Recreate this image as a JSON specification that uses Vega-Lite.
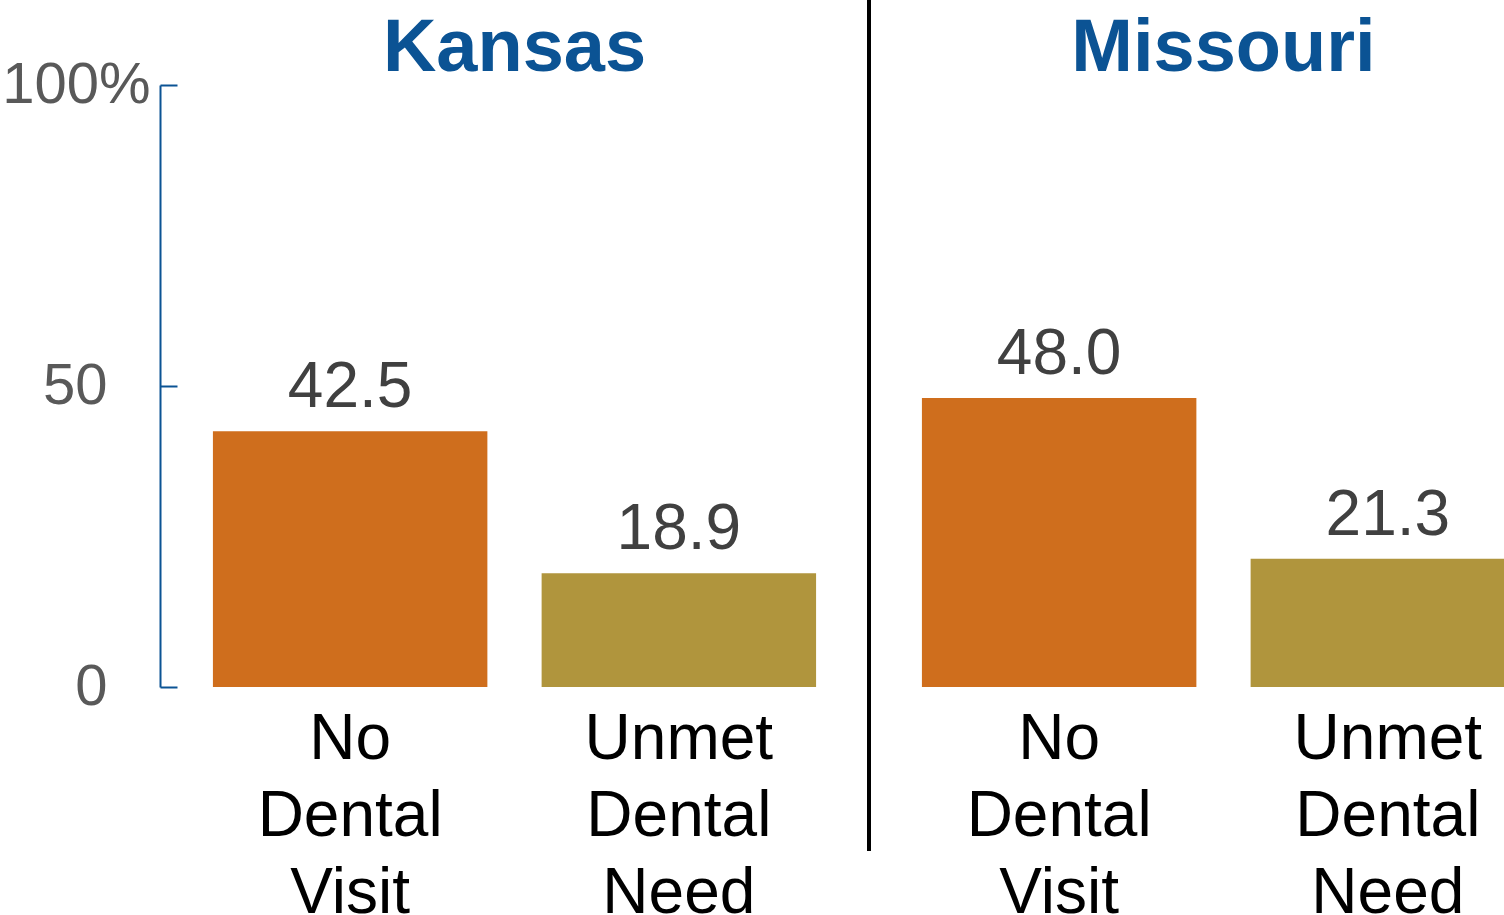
{
  "$schema": "https://vega.github.io/schema/vega-lite/v6.json",
  "width": 1344,
  "height": 602,
  "autosize": {"type": "none"},
  "padding": {"left": 160, "top": 85, "right": 0, "bottom": 228},
  "background": "white",
  "config": {"view": {"stroke": null}, "font": "Liberation Sans"},
  "data": {
    "values": [
      {"state": "Kansas", "measure": "No Dental Visit", "value": 42.5},
      {"state": "Kansas", "measure": "Unmet Dental Need", "value": 18.9},
      {"state": "Missouri", "measure": "No Dental Visit", "value": 48.0},
      {"state": "Missouri", "measure": "Unmet Dental Need", "value": 21.3}
    ]
  },
  "encoding": {
    "x": {
      "field": "state",
      "type": "nominal",
      "title": null,
      "scale": {"domain": ["Kansas", "Missouri"], "range": [0, 1418], "paddingInner": 0, "paddingOuter": 0},
      "axis": {
        "orient": "top",
        "domain": false,
        "ticks": false,
        "grid": false,
        "labelAngle": 0,
        "labelLimit": 0,
        "labelFont": "Liberation Sans",
        "labelFontSize": 74,
        "labelFontWeight": "bold",
        "labelColor": "#0b5394",
        "labelBaseline": "alphabetic",
        "labelPadding": 15
      }
    },
    "y": {
      "field": "value",
      "type": "quantitative",
      "title": null,
      "scale": {"domain": [0, 100], "nice": false},
      "axis": {
        "values": [0, 50, 100],
        "grid": false,
        "domainColor": "#0b5394",
        "domainWidth": 2,
        "tickColor": "#0b5394",
        "tickWidth": 2,
        "tickSize": -17,
        "labelFont": "Liberation Sans",
        "labelFontSize": 58,
        "labelColor": "#595959",
        "labelBaseline": "middle",
        "labelExpr": "datum.value == 100 ? '100%' : datum.label",
        "labelPadding": {"condition": {"test": "datum.value == 100", "value": 27}, "value": 70}
      }
    }
  },
  "layer": [
    {
      "mark": {"type": "bar"},
      "encoding": {
        "xOffset": {
          "field": "measure",
          "type": "nominal",
          "scale": {"domain": ["No Dental Visit", "Unmet Dental Need"], "paddingInner": 0.165, "paddingOuter": 0.161}
        },
        "color": {
          "field": "measure",
          "type": "nominal",
          "scale": {"domain": ["No Dental Visit", "Unmet Dental Need"], "range": ["#cf6e1d", "#b0953d"]},
          "legend": null
        }
      }
    },
    {
      "mark": {"type": "text", "dy": -24, "baseline": "alphabetic", "align": "center", "fontSize": 64, "color": "#404040"},
      "encoding": {
        "xOffset": {"field": "measure", "type": "nominal"},
        "text": {"field": "value", "type": "quantitative", "format": ".1f"}
      }
    },
    {
      "mark": {"type": "text", "dy": 72, "baseline": "alphabetic", "align": "center", "fontSize": 64, "color": "#000000", "lineBreak": " ", "lineHeight": 77, "clip": false},
      "encoding": {
        "xOffset": {"field": "measure", "type": "nominal"},
        "y": {"datum": 0, "type": "quantitative", "title": null},
        "text": {"field": "measure", "type": "nominal"}
      }
    },
    {
      "mark": {"type": "rule", "color": "#000000", "strokeWidth": 4, "clip": false},
      "encoding": {
        "x": {"datum": "Missouri", "type": "nominal", "bandPosition": 0, "title": null},
        "y": {"datum": 114.1, "type": "quantitative", "title": null},
        "y2": {"datum": -27.2}
      }
    }
  ]
}
